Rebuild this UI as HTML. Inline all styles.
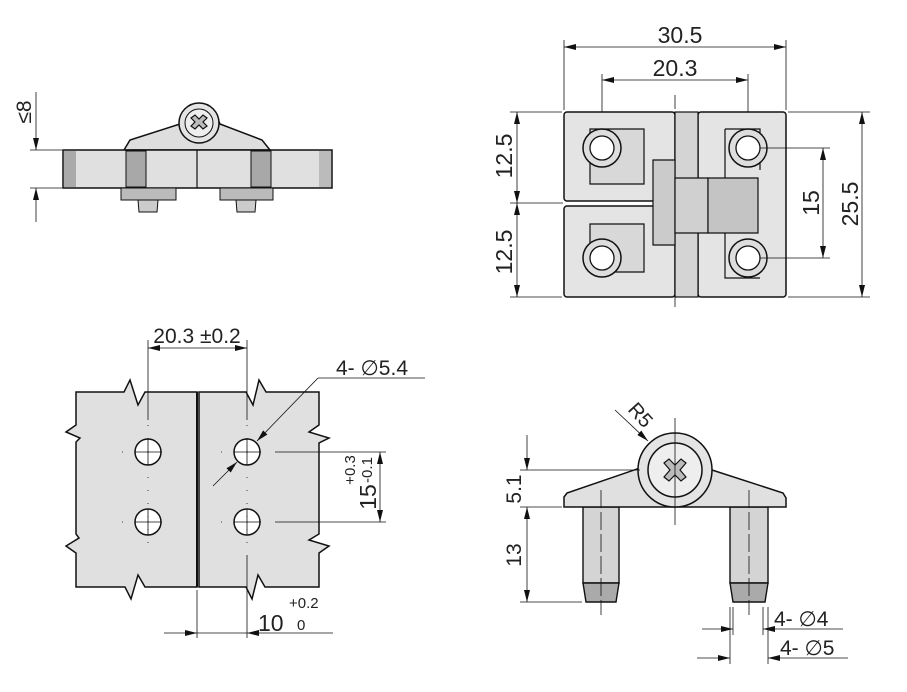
<!DOCTYPE html>
<html><head><meta charset="utf-8"><style>
html,body{margin:0;padding:0;background:#fff}
svg{display:block}
text{font-family:"Liberation Sans","DejaVu Sans",sans-serif;fill:#222}
</style></head><body>
<svg width="907" height="692" viewBox="0 0 907 692" xmlns="http://www.w3.org/2000/svg">
<defs>
<marker id="a" viewBox="0 0 12 6" refX="12" refY="3" markerWidth="12" markerHeight="6" orient="auto-start-reverse" markerUnits="userSpaceOnUse"><path d="M0,0L12,3L0,6z" fill="#111"/></marker>
</defs>
<g stroke="#111" stroke-width="1" fill="none">

<!-- ===== Top-left side view ===== -->
<path d="M124,150 L130,140 L180,124 A21,21 0 0 1 220,124 L262,140 L270,150 Z" fill="#dedede" stroke-width="1.5"/>
<circle cx="199" cy="123" r="20" fill="#e4e4e4" stroke-width="1.5"/>
<circle cx="199" cy="123" r="14" fill="#eee"/>
<path d="M191,118 l4,-3 l4,4 l4,-4 l4,3 l-4,4 l4,4 l-4,3 l-4,-4 l-4,4 l-4,-3 l4,-4z" fill="#bbb" stroke-width="1.2"/>
<rect x="63" y="150" width="269" height="38" fill="#e0e0e0" stroke-width="1.5"/>
<rect x="64" y="151" width="12" height="36" fill="#aaa" stroke="none"/>
<rect x="319" y="151" width="12" height="36" fill="#bbb" stroke="none"/>
<rect x="126" y="151" width="20" height="36" fill="#a8a8a8"/>
<rect x="251" y="151" width="20" height="36" fill="#a8a8a8"/>
<line x1="197" y1="150" x2="197" y2="188" stroke-width="1.2"/>
<rect x="121" y="188" width="55" height="12" fill="#bbb"/>
<rect x="220" y="188" width="53" height="12" fill="#bbb"/>
<path d="M138,200 L158,200 L157,212 L139,212 Z" fill="#ccc"/>
<path d="M236,200 L256,200 L255,212 L237,212 Z" fill="#ccc"/>
<line x1="30" y1="150" x2="62" y2="150" stroke-width="0.8"/>
<line x1="30" y1="188" x2="62" y2="188" stroke-width="0.8"/>
<line x1="36" y1="92" x2="36" y2="150" marker-end="url(#a)" stroke-width="0.8"/>
<line x1="36" y1="222" x2="36" y2="188" marker-end="url(#a)" stroke-width="0.8"/>

<!-- ===== Top-right front view ===== -->
<line x1="564" y1="40" x2="564" y2="110" stroke-width="0.8"/>
<line x1="786" y1="40" x2="786" y2="110" stroke-width="0.8"/>
<line x1="602" y1="74" x2="602" y2="140" stroke-width="0.8"/>
<line x1="748" y1="74" x2="748" y2="140" stroke-width="0.8"/>
<line x1="564" y1="47" x2="786" y2="47" marker-start="url(#a)" marker-end="url(#a)" stroke-width="0.8"/>
<line x1="602" y1="80" x2="748" y2="80" marker-start="url(#a)" marker-end="url(#a)" stroke-width="0.8"/>
<rect x="564" y="112" width="111" height="89" rx="3" fill="#e4e4e4" stroke-width="1.5"/>
<rect x="564" y="206" width="111" height="91" rx="3" fill="#e4e4e4" stroke-width="1.5"/>
<rect x="698" y="112" width="88" height="185" rx="3" fill="#e4e4e4" stroke-width="1.5"/>
<rect x="675" y="112" width="23" height="185" fill="#d4d4d4" stroke-width="1.2"/>
<path d="M653,160 L675,160 L675,245 L653,245 Z" fill="#cbcbcb" stroke-width="1.2"/>
<path d="M675,178 L708,178 L708,233 L675,233 Z" fill="#d0d0d0" stroke-width="1.2"/>
<path d="M708,178 L758,178 L758,233 L708,233 Z" fill="#c4c4c4" stroke-width="1.2"/>
<path d="M590,129 L644,129 L644,184 L590,184 Z" fill="#d8d8d8" stroke-width="1.2"/>
<path d="M590,224 L644,224 L644,272 L590,272 Z" fill="#d8d8d8" stroke-width="1.2"/>
<path d="M725,129 L760,129 L760,170 M725,129 L725,178" stroke-width="1.2"/>
<path d="M725,233 L725,278 L760,278" stroke-width="1.2"/>
<g fill="#ddd" stroke-width="1.5">
<circle cx="602" cy="148" r="19"/><circle cx="748" cy="148" r="19"/>
<circle cx="602" cy="258" r="19"/><circle cx="748" cy="258" r="19"/>
</g>
<g fill="#fff" stroke-width="1.3">
<circle cx="602" cy="148" r="12"/><circle cx="748" cy="148" r="12"/>
<circle cx="602" cy="258" r="12"/><circle cx="748" cy="258" r="12"/>
</g>
<line x1="675" y1="95" x2="675" y2="310" stroke-width="0.8" stroke-dasharray="14,4"/>
<line x1="510" y1="112" x2="562" y2="112" stroke-width="0.8"/>
<line x1="510" y1="203" x2="563" y2="203" stroke-width="0.8"/>
<line x1="510" y1="297" x2="562" y2="297" stroke-width="0.8"/>
<line x1="760" y1="148" x2="830" y2="148" stroke-width="0.8"/>
<line x1="760" y1="258" x2="830" y2="258" stroke-width="0.8"/>
<line x1="788" y1="112" x2="870" y2="112" stroke-width="0.8"/>
<line x1="788" y1="297" x2="870" y2="297" stroke-width="0.8"/>
<line x1="517" y1="112" x2="517" y2="203" marker-start="url(#a)" marker-end="url(#a)" stroke-width="0.8"/>
<line x1="517" y1="203" x2="517" y2="297" marker-start="url(#a)" marker-end="url(#a)" stroke-width="0.8"/>
<line x1="823" y1="148" x2="823" y2="258" marker-start="url(#a)" marker-end="url(#a)" stroke-width="0.8"/>
<line x1="862" y1="112" x2="862" y2="297" marker-start="url(#a)" marker-end="url(#a)" stroke-width="0.8"/>

<!-- ===== Bottom-left hole pattern ===== -->
<path d="M76,392 L124,392 L130,380 L138,405 L145,392 L197,392 L197,587 L145,587 L138,575 L131,599 L125,587 L76,587 L76,553 L66,546 L79,538 L76,534 L76,442 L80,438 L66,432 L76,425 Z" fill="#e0e0e0" stroke-width="1.5"/>
<path d="M199,392 L246,392 L253,405 L259,380 L266,392 L319,392 L319,425 L309,432 L329,438 L319,443 L319,534 L309,540 L329,546 L319,553 L319,587 L265,587 L258,575 L252,599 L246,587 L199,587 Z" fill="#e0e0e0" stroke-width="1.5"/>
<line x1="197" y1="392" x2="197" y2="587" stroke-width="2"/>
<g fill="#fff" stroke-width="1.5">
<circle cx="148" cy="452" r="13"/><circle cx="247" cy="452" r="13"/>
<circle cx="148" cy="522" r="13"/><circle cx="247" cy="522" r="13"/>
</g>
<g stroke-width="0.8">
<path d="M135,452h26M148,439v26M234,452h26M247,439v26M135,522h26M148,509v26M234,522h26M247,509v26"/>
</g>
<g stroke-width="0.8" stroke-dasharray="1,12">
<path d="M122,452h52M122,522h52M221,452h52M221,522h52M148,425v120M247,425v120"/>
</g>
<line x1="148" y1="340" x2="148" y2="420" stroke-width="0.8"/>
<line x1="247" y1="340" x2="247" y2="420" stroke-width="0.8"/>
<line x1="148" y1="348" x2="247" y2="348" marker-start="url(#a)" marker-end="url(#a)" stroke-width="0.8"/>
<line x1="318" y1="378" x2="425" y2="378" stroke-width="0.8"/>
<line x1="318" y1="378" x2="257" y2="441" marker-end="url(#a)" stroke-width="0.8"/>
<line x1="213" y1="486" x2="237" y2="462" marker-end="url(#a)" stroke-width="0.8"/>
<line x1="275" y1="452" x2="386" y2="452" stroke-width="0.8"/>
<line x1="275" y1="522" x2="386" y2="522" stroke-width="0.8"/>
<line x1="380" y1="452" x2="380" y2="522" marker-start="url(#a)" marker-end="url(#a)" stroke-width="0.8"/>
<line x1="197" y1="590" x2="197" y2="638" stroke-width="0.8"/>
<line x1="247" y1="555" x2="247" y2="638" stroke-width="0.8"/>
<line x1="164" y1="633" x2="197" y2="633" marker-end="url(#a)" stroke-width="0.8"/>
<line x1="333" y1="633" x2="247" y2="633" marker-end="url(#a)" stroke-width="0.8"/>
<line x1="197" y1="633" x2="247" y2="633" stroke-width="0.8"/>

<!-- ===== Bottom-right side view ===== -->
<rect x="583" y="507" width="36" height="76" fill="#d4d4d4" stroke-width="1.4"/>
<path d="M583,583 L619,583 L616,602 L586,602 Z" fill="#aaa" stroke-width="1.4"/>
<rect x="730" y="507" width="38" height="76" fill="#d4d4d4" stroke-width="1.4"/>
<path d="M730,583 L768,583 L765,602 L733,602 Z" fill="#aaa" stroke-width="1.4"/>
<path d="M564,497 L567,493 L640,468 A37,37 0 0 1 712,470 L783,493 L786,498 L786,507 L564,507 Z" fill="#e0e0e0" stroke-width="1.5"/>
<circle cx="675" cy="470" r="37" fill="#e4e4e4" stroke-width="1.5"/>
<circle cx="675" cy="470" r="27" fill="#eee" stroke-width="1.5"/>
<path d="M664,463 l5,-4 l6,6 l6,-6 l5,4 l-6,7 l6,7 l-5,4 l-6,-6 l-6,6 l-5,-4 l6,-7z" fill="#bbb" stroke-width="1.2"/>
<line x1="675" y1="418" x2="675" y2="525" stroke-width="0.8"/>
<line x1="601" y1="490" x2="601" y2="615" stroke-width="0.8" stroke-dasharray="18,4"/>
<line x1="749" y1="490" x2="749" y2="615" stroke-width="0.8" stroke-dasharray="18,4"/>
<line x1="615" y1="410" x2="648" y2="441" marker-end="url(#a)" stroke-width="0.8"/>
<line x1="520" y1="470" x2="640" y2="470" stroke-width="0.8"/>
<line x1="520" y1="507" x2="562" y2="507" stroke-width="0.8"/>
<line x1="520" y1="602" x2="582" y2="602" stroke-width="0.8"/>
<line x1="527" y1="435" x2="527" y2="470" marker-end="url(#a)" stroke-width="0.8"/>
<line x1="527" y1="507" x2="527" y2="602" marker-start="url(#a)" marker-end="url(#a)" stroke-width="0.8"/>
<line x1="733" y1="607" x2="733" y2="635" stroke-width="0.8"/>
<line x1="763" y1="607" x2="763" y2="635" stroke-width="0.8"/>
<line x1="730" y1="607" x2="730" y2="664" stroke-width="0.8"/>
<line x1="768" y1="607" x2="768" y2="664" stroke-width="0.8"/>
<line x1="702" y1="629" x2="733" y2="629" marker-end="url(#a)" stroke-width="0.8"/>
<line x1="843" y1="629" x2="763" y2="629" marker-end="url(#a)" stroke-width="0.8"/>
<line x1="697" y1="658" x2="730" y2="658" marker-end="url(#a)" stroke-width="0.8"/>
<line x1="848" y1="658" x2="768" y2="658" marker-end="url(#a)" stroke-width="0.8"/>
</g>

<!-- text -->
<text x="31" y="112" font-size="21" transform="rotate(-90 31 112)" text-anchor="middle">≤8</text>
<text x="680" y="43" font-size="23" text-anchor="middle">30.5</text>
<text x="675" y="76" font-size="23" text-anchor="middle">20.3</text>
<text x="512" y="156" font-size="23" transform="rotate(-90 512 156)" text-anchor="middle">12.5</text>
<text x="512" y="252" font-size="23" transform="rotate(-90 512 252)" text-anchor="middle">12.5</text>
<text x="819" y="203" font-size="23" transform="rotate(-90 819 203)" text-anchor="middle">15</text>
<text x="858" y="204" font-size="23" transform="rotate(-90 858 204)" text-anchor="middle">25.5</text>
<text x="197" y="343" font-size="21" text-anchor="middle">20.3 ±0.2</text>
<text x="336" y="375" font-size="21">4- ∅5.4</text>
<text x="376" y="497" font-size="23" transform="rotate(-90 376 497)" text-anchor="middle">15</text>
<text x="355" y="470" font-size="15" transform="rotate(-90 355 470)" text-anchor="middle">+0.3</text>
<text x="372" y="470" font-size="15" transform="rotate(-90 372 470)" text-anchor="middle">-0.1</text>
<text x="258" y="631" font-size="23">10</text>
<text x="289" y="608" font-size="15">+0.2</text>
<text x="297" y="630" font-size="15">0</text>
<text x="627" y="410" font-size="20" transform="rotate(48 627 410)">R5</text>
<text x="521" y="489" font-size="21" transform="rotate(-90 521 489)" text-anchor="middle">5.1</text>
<text x="521" y="555" font-size="21" transform="rotate(-90 521 555)" text-anchor="middle">13</text>
<text x="774" y="626" font-size="21">4- ∅4</text>
<text x="780" y="655" font-size="21">4- ∅5</text>
</svg>
</body></html>
